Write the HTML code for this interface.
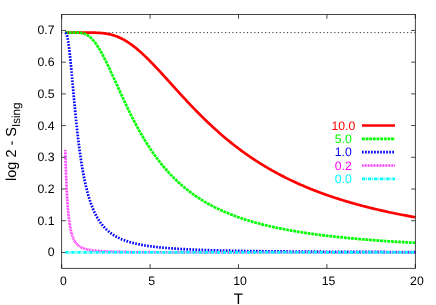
<!DOCTYPE html>
<html><head><meta charset="utf-8"><title>plot</title>
<style>html,body{margin:0;padding:0;background:#fff;}svg{display:block;}svg{will-change:transform;}text{font-family:"Liberation Sans",sans-serif;text-rendering:geometricPrecision;}</style></head><body>
<svg width="436" height="305" viewBox="0 0 436 305">
<rect width="436" height="305" fill="#fff"/>
<g stroke="#000" stroke-width="0.72" fill="none">
<path d="M61.70,252.45 h4.20 M415.30,252.45 h-4.20"/>
<path d="M61.70,220.74 h4.20 M415.30,220.74 h-4.20"/>
<path d="M61.70,189.02 h4.20 M415.30,189.02 h-4.20"/>
<path d="M61.70,157.31 h4.20 M415.30,157.31 h-4.20"/>
<path d="M61.70,125.59 h4.20 M415.30,125.59 h-4.20"/>
<path d="M61.70,93.88 h4.20 M415.30,93.88 h-4.20"/>
<path d="M61.70,62.16 h4.20 M415.30,62.16 h-4.20"/>
<path d="M61.70,30.45 h4.20 M415.30,30.45 h-4.20"/>
<path d="M61.70,268.31 v-4.20 M61.70,14.59 v4.20"/>
<path d="M150.10,268.31 v-4.20 M150.10,14.59 v4.20"/>
<path d="M238.50,268.31 v-4.20 M238.50,14.59 v4.20"/>
<path d="M326.90,268.31 v-4.20 M326.90,14.59 v4.20"/>
<path d="M415.30,268.31 v-4.20 M415.30,14.59 v4.20"/>
</g>
<path d="M61.70,32.62 H415.30" stroke="#000" stroke-width="0.8" stroke-dasharray="1.21 2.43" stroke-dashoffset="0.45" fill="none"/>
<path d="M65.24,32.62 L65.24,32.62 L65.25,32.62 L65.27,32.62 L65.29,32.62 L65.32,32.62 L65.36,32.62 L65.40,32.62 L65.44,32.62 L65.49,32.62 L65.54,32.62 L65.60,32.62 L65.66,32.62 L65.73,32.62 L65.80,32.62 L65.87,32.62 L65.95,32.62 L66.03,32.62 L66.12,32.62 L66.21,32.62 L66.30,32.62 L66.40,32.62 L66.50,32.62 L66.61,32.62 L66.72,32.62 L66.83,32.62 L66.95,32.62 L67.07,32.62 L67.19,32.62 L67.32,32.62 L67.45,32.62 L67.58,32.62 L67.72,32.62 L67.86,32.62 L68.01,32.62 L68.16,32.62 L68.31,32.62 L68.46,32.62 L68.62,32.62 L68.78,32.62 L68.95,32.62 L69.12,32.62 L69.29,32.62 L69.47,32.62 L69.64,32.62 L69.83,32.62 L70.01,32.62 L70.20,32.62 L70.39,32.62 L70.59,32.62 L70.78,32.62 L70.99,32.62 L71.19,32.62 L71.40,32.62 L71.61,32.62 L71.82,32.62 L72.04,32.62 L72.26,32.62 L72.48,32.62 L72.71,32.62 L72.94,32.62 L73.17,32.62 L73.41,32.62 L73.65,32.62 L73.89,32.62 L74.13,32.62 L74.38,32.62 L74.63,32.62 L74.89,32.62 L75.14,32.62 L75.40,32.62 L75.67,32.62 L75.93,32.62 L76.20,32.62 L76.47,32.62 L76.75,32.62 L77.02,32.62 L77.31,32.62 L77.59,32.62 L77.88,32.62 L78.16,32.62 L78.46,32.62 L78.75,32.62 L79.05,32.62 L79.35,32.62 L79.66,32.62 L79.96,32.62 L80.27,32.62 L80.58,32.62 L80.90,32.62 L81.22,32.62 L81.54,32.62 L81.86,32.62 L82.19,32.62 L82.52,32.62 L82.85,32.62 L83.19,32.62 L83.53,32.62 L83.87,32.62 L84.21,32.62 L84.56,32.62 L84.90,32.62 L85.26,32.62 L85.61,32.63 L85.97,32.63 L86.33,32.63 L86.69,32.63 L87.06,32.63 L87.43,32.63 L87.80,32.63 L88.17,32.63 L88.55,32.63 L88.93,32.63 L89.31,32.64 L89.69,32.64 L90.08,32.64 L90.47,32.64 L90.87,32.65 L91.26,32.65 L91.66,32.65 L92.06,32.66 L92.46,32.66 L92.87,32.67 L93.28,32.68 L93.69,32.68 L94.11,32.69 L94.52,32.70 L94.94,32.71 L95.36,32.72 L95.79,32.74 L96.22,32.75 L96.65,32.77 L97.08,32.78 L97.52,32.80 L97.95,32.82 L98.40,32.84 L98.84,32.87 L99.28,32.89 L99.73,32.92 L100.18,32.95 L100.64,32.99 L101.09,33.02 L101.55,33.06 L102.02,33.10 L102.48,33.15 L102.95,33.20 L103.42,33.25 L103.89,33.30 L104.36,33.36 L104.84,33.43 L105.32,33.49 L105.80,33.57 L106.29,33.64 L106.77,33.72 L107.26,33.81 L107.76,33.90 L108.25,33.99 L108.75,34.09 L109.25,34.20 L109.75,34.31 L110.26,34.43 L110.76,34.55 L111.28,34.68 L111.79,34.82 L112.30,34.96 L112.82,35.11 L113.34,35.26 L113.86,35.43 L114.39,35.60 L114.92,35.77 L115.45,35.96 L115.98,36.15 L116.52,36.35 L117.05,36.56 L117.59,36.77 L118.14,37.00 L118.68,37.23 L119.23,37.47 L119.78,37.72 L120.33,37.97 L120.89,38.24 L121.45,38.51 L122.01,38.79 L122.57,39.08 L123.14,39.38 L123.70,39.69 L124.27,40.01 L124.85,40.34 L125.42,40.68 L126.00,41.02 L126.58,41.38 L127.16,41.74 L127.75,42.11 L128.33,42.50 L128.92,42.89 L129.51,43.29 L130.11,43.70 L130.71,44.12 L131.31,44.55 L131.91,44.99 L132.51,45.43 L133.12,45.89 L133.73,46.36 L134.34,46.83 L134.95,47.32 L135.57,47.81 L136.19,48.31 L136.81,48.83 L137.43,49.35 L138.06,49.88 L138.69,50.41 L139.32,50.96 L139.95,51.52 L140.59,52.08 L141.22,52.65 L141.86,53.24 L142.51,53.83 L143.15,54.42 L143.80,55.03 L144.45,55.64 L145.10,56.26 L145.76,56.89 L146.41,57.53 L147.07,58.18 L147.73,58.83 L148.40,59.49 L149.07,60.15 L149.73,60.83 L150.41,61.51 L151.08,62.19 L151.76,62.89 L152.43,63.59 L153.11,64.29 L153.80,65.01 L154.48,65.73 L155.17,66.45 L155.86,67.18 L156.55,67.92 L157.25,68.66 L157.94,69.41 L158.64,70.16 L159.35,70.91 L160.05,71.68 L160.76,72.44 L161.46,73.21 L162.18,73.99 L162.89,74.77 L163.60,75.55 L164.32,76.34 L165.04,77.13 L165.77,77.93 L166.49,78.73 L167.22,79.53 L167.95,80.34 L168.68,81.15 L169.41,81.96 L170.15,82.77 L170.89,83.59 L171.63,84.41 L172.37,85.23 L173.12,86.06 L173.87,86.88 L174.62,87.71 L175.37,88.54 L176.13,89.38 L176.88,90.21 L177.64,91.04 L178.40,91.88 L179.17,92.72 L179.93,93.56 L180.70,94.40 L181.47,95.24 L182.25,96.08 L183.02,96.92 L183.80,97.76 L184.58,98.60 L185.36,99.44 L186.15,100.29 L186.93,101.13 L187.72,101.97 L188.51,102.81 L189.31,103.65 L190.10,104.49 L190.90,105.33 L191.70,106.17 L192.50,107.01 L193.31,107.85 L194.12,108.68 L194.93,109.52 L195.74,110.35 L196.55,111.19 L197.37,112.02 L198.19,112.85 L199.01,113.68 L199.83,114.50 L200.66,115.33 L201.48,116.15 L202.31,116.97 L203.14,117.79 L203.98,118.61 L204.81,119.42 L205.65,120.24 L206.49,121.05 L207.34,121.86 L208.18,122.66 L209.03,123.47 L209.88,124.27 L210.73,125.07 L211.59,125.86 L212.44,126.65 L213.30,127.45 L214.16,128.23 L215.02,129.02 L215.89,129.80 L216.76,130.58 L217.63,131.35 L218.50,132.13 L219.37,132.90 L220.25,133.66 L221.13,134.43 L222.01,135.19 L222.89,135.94 L223.78,136.70 L224.66,137.45 L225.55,138.20 L226.45,138.94 L227.34,139.68 L228.24,140.42 L229.13,141.15 L230.03,141.88 L230.94,142.61 L231.84,143.33 L232.75,144.05 L233.66,144.76 L234.57,145.48 L235.48,146.19 L236.40,146.89 L237.32,147.59 L238.24,148.29 L239.16,148.98 L240.09,149.67 L241.01,150.36 L241.94,151.04 L242.87,151.72 L243.81,152.40 L244.74,153.07 L245.68,153.73 L246.62,154.40 L247.56,155.06 L248.50,155.71 L249.45,156.37 L250.40,157.01 L251.35,157.66 L252.30,158.30 L253.26,158.94 L254.21,159.57 L255.17,160.20 L256.14,160.83 L257.10,161.45 L258.06,162.06 L259.03,162.68 L260.00,163.29 L260.97,163.90 L261.95,164.50 L262.93,165.10 L263.90,165.69 L264.89,166.28 L265.87,166.87 L266.85,167.46 L267.84,168.04 L268.83,168.61 L269.82,169.18 L270.81,169.75 L271.81,170.32 L272.81,170.88 L273.81,171.44 L274.81,171.99 L275.82,172.54 L276.82,173.09 L277.83,173.63 L278.84,174.17 L279.85,174.71 L280.87,175.24 L281.89,175.77 L282.91,176.29 L283.93,176.81 L284.95,177.33 L285.98,177.84 L287.00,178.35 L288.03,178.86 L289.07,179.36 L290.10,179.86 L291.14,180.36 L292.17,180.85 L293.21,181.34 L294.26,181.83 L295.30,182.31 L296.35,182.79 L297.40,183.27 L298.45,183.74 L299.50,184.21 L300.56,184.67 L301.61,185.14 L302.67,185.60 L303.74,186.05 L304.80,186.50 L305.87,186.95 L306.93,187.40 L308.00,187.84 L309.08,188.28 L310.15,188.72 L311.23,189.15 L312.30,189.58 L313.38,190.01 L314.47,190.43 L315.55,190.85 L316.64,191.27 L317.73,191.69 L318.82,192.10 L319.91,192.51 L321.01,192.91 L322.10,193.32 L323.20,193.72 L324.30,194.11 L325.41,194.51 L326.51,194.90 L327.62,195.29 L328.73,195.67 L329.84,196.05 L330.96,196.43 L332.07,196.81 L333.19,197.19 L334.31,197.56 L335.43,197.93 L336.56,198.29 L337.68,198.65 L338.81,199.01 L339.94,199.37 L341.07,199.73 L342.21,200.08 L343.35,200.43 L344.48,200.78 L345.63,201.12 L346.77,201.46 L347.91,201.80 L349.06,202.14 L350.21,202.47 L351.36,202.81 L352.51,203.14 L353.67,203.46 L354.83,203.79 L355.99,204.11 L357.15,204.43 L358.31,204.75 L359.48,205.06 L360.64,205.37 L361.81,205.68 L362.99,205.99 L364.16,206.30 L365.33,206.60 L366.51,206.90 L367.69,207.20 L368.87,207.50 L370.06,207.79 L371.24,208.08 L372.43,208.37 L373.62,208.66 L374.82,208.95 L376.01,209.23 L377.21,209.51 L378.40,209.79 L379.60,210.07 L380.81,210.34 L382.01,210.62 L383.22,210.89 L384.43,211.16 L385.64,211.42 L386.85,211.69 L388.06,211.95 L389.28,212.21 L390.50,212.47 L391.72,212.73 L392.94,212.98 L394.17,213.24 L395.39,213.49 L396.62,213.74 L397.85,213.99 L399.09,214.23 L400.32,214.48 L401.56,214.72 L402.80,214.96 L404.04,215.20 L405.28,215.43 L406.53,215.67 L407.77,215.90 L409.02,216.13 L410.28,216.36 L411.53,216.59 L412.78,216.82 L414.04,217.04 L415.30,217.26" stroke="#ff0000" stroke-width="2.70" fill="none" stroke-linejoin="round"/>
<path d="M65.24,32.62 L65.24,32.62 L65.25,32.62 L65.27,32.62 L65.29,32.62 L65.32,32.62 L65.36,32.62 L65.40,32.62 L65.44,32.62 L65.49,32.62 L65.54,32.62 L65.60,32.62 L65.66,32.62 L65.73,32.62 L65.80,32.62 L65.87,32.62 L65.95,32.62 L66.03,32.62 L66.12,32.62 L66.21,32.62 L66.30,32.62 L66.40,32.62 L66.50,32.62 L66.61,32.62 L66.72,32.62 L66.83,32.62 L66.95,32.62 L67.07,32.62 L67.19,32.62 L67.32,32.62 L67.45,32.62 L67.58,32.62 L67.72,32.62 L67.86,32.62 L68.01,32.62 L68.16,32.62 L68.31,32.62 L68.46,32.62 L68.62,32.62 L68.78,32.62 L68.95,32.62 L69.12,32.62 L69.29,32.62 L69.47,32.62 L69.64,32.62 L69.83,32.62 L70.01,32.62 L70.20,32.62 L70.39,32.62 L70.59,32.62 L70.78,32.62 L70.99,32.62 L71.19,32.62 L71.40,32.62 L71.61,32.62 L71.82,32.62 L72.04,32.62 L72.26,32.62 L72.48,32.62 L72.71,32.62 L72.94,32.62 L73.17,32.62 L73.41,32.62 L73.65,32.63 L73.89,32.63 L74.13,32.63 L74.38,32.63 L74.63,32.63 L74.89,32.63 L75.14,32.63 L75.40,32.63 L75.67,32.64 L75.93,32.64 L76.20,32.64 L76.47,32.65 L76.75,32.66 L77.02,32.66 L77.31,32.67 L77.59,32.68 L77.88,32.69 L78.16,32.70 L78.46,32.72 L78.75,32.74 L79.05,32.76 L79.35,32.78 L79.66,32.81 L79.96,32.83 L80.27,32.87 L80.58,32.91 L80.90,32.95 L81.22,32.99 L81.54,33.05 L81.86,33.11 L82.19,33.17 L82.52,33.24 L82.85,33.32 L83.19,33.40 L83.53,33.50 L83.87,33.60 L84.21,33.71 L84.56,33.83 L84.90,33.96 L85.26,34.11 L85.61,34.26 L85.97,34.42 L86.33,34.60 L86.69,34.79 L87.06,34.99 L87.43,35.21 L87.80,35.44 L88.17,35.68 L88.55,35.94 L88.93,36.21 L89.31,36.50 L89.69,36.81 L90.08,37.13 L90.47,37.47 L90.87,37.83 L91.26,38.20 L91.66,38.60 L92.06,39.01 L92.46,39.43 L92.87,39.88 L93.28,40.35 L93.69,40.83 L94.11,41.33 L94.52,41.86 L94.94,42.40 L95.36,42.96 L95.79,43.54 L96.22,44.14 L96.65,44.76 L97.08,45.40 L97.52,46.05 L97.95,46.73 L98.40,47.43 L98.84,48.14 L99.28,48.88 L99.73,49.63 L100.18,50.40 L100.64,51.19 L101.09,52.00 L101.55,52.82 L102.02,53.66 L102.48,54.52 L102.95,55.40 L103.42,56.29 L103.89,57.20 L104.36,58.13 L104.84,59.07 L105.32,60.03 L105.80,61.00 L106.29,61.98 L106.77,62.98 L107.26,64.00 L107.76,65.02 L108.25,66.06 L108.75,67.12 L109.25,68.18 L109.75,69.25 L110.26,70.34 L110.76,71.44 L111.28,72.55 L111.79,73.66 L112.30,74.79 L112.82,75.93 L113.34,77.07 L113.86,78.22 L114.39,79.38 L114.92,80.55 L115.45,81.72 L115.98,82.90 L116.52,84.08 L117.05,85.27 L117.59,86.47 L118.14,87.67 L118.68,88.87 L119.23,90.08 L119.78,91.29 L120.33,92.50 L120.89,93.71 L121.45,94.93 L122.01,96.15 L122.57,97.37 L123.14,98.59 L123.70,99.81 L124.27,101.03 L124.85,102.25 L125.42,103.48 L126.00,104.70 L126.58,105.91 L127.16,107.13 L127.75,108.35 L128.33,109.56 L128.92,110.77 L129.51,111.98 L130.11,113.18 L130.71,114.38 L131.31,115.58 L131.91,116.78 L132.51,117.97 L133.12,119.15 L133.73,120.33 L134.34,121.51 L134.95,122.68 L135.57,123.85 L136.19,125.01 L136.81,126.17 L137.43,127.32 L138.06,128.47 L138.69,129.60 L139.32,130.74 L139.95,131.86 L140.59,132.98 L141.22,134.10 L141.86,135.21 L142.51,136.31 L143.15,137.40 L143.80,138.49 L144.45,139.56 L145.10,140.64 L145.76,141.70 L146.41,142.76 L147.07,143.81 L147.73,144.85 L148.40,145.89 L149.07,146.91 L149.73,147.93 L150.41,148.95 L151.08,149.95 L151.76,150.95 L152.43,151.93 L153.11,152.91 L153.80,153.89 L154.48,154.85 L155.17,155.81 L155.86,156.76 L156.55,157.70 L157.25,158.63 L157.94,159.55 L158.64,160.47 L159.35,161.38 L160.05,162.28 L160.76,163.17 L161.46,164.05 L162.18,164.93 L162.89,165.80 L163.60,166.66 L164.32,167.51 L165.04,168.35 L165.77,169.19 L166.49,170.02 L167.22,170.84 L167.95,171.65 L168.68,172.46 L169.41,173.25 L170.15,174.04 L170.89,174.82 L171.63,175.60 L172.37,176.36 L173.12,177.12 L173.87,177.87 L174.62,178.62 L175.37,179.35 L176.13,180.08 L176.88,180.80 L177.64,181.51 L178.40,182.22 L179.17,182.92 L179.93,183.61 L180.70,184.30 L181.47,184.98 L182.25,185.65 L183.02,186.31 L183.80,186.97 L184.58,187.62 L185.36,188.26 L186.15,188.90 L186.93,189.53 L187.72,190.15 L188.51,190.77 L189.31,191.38 L190.10,191.98 L190.90,192.58 L191.70,193.17 L192.50,193.76 L193.31,194.33 L194.12,194.91 L194.93,195.47 L195.74,196.03 L196.55,196.59 L197.37,197.13 L198.19,197.68 L199.01,198.21 L199.83,198.74 L200.66,199.27 L201.48,199.79 L202.31,200.30 L203.14,200.81 L203.98,201.31 L204.81,201.81 L205.65,202.30 L206.49,202.79 L207.34,203.27 L208.18,203.74 L209.03,204.21 L209.88,204.68 L210.73,205.14 L211.59,205.59 L212.44,206.04 L213.30,206.49 L214.16,206.93 L215.02,207.37 L215.89,207.80 L216.76,208.22 L217.63,208.65 L218.50,209.06 L219.37,209.47 L220.25,209.88 L221.13,210.29 L222.01,210.69 L222.89,211.08 L223.78,211.47 L224.66,211.86 L225.55,212.24 L226.45,212.62 L227.34,212.99 L228.24,213.36 L229.13,213.73 L230.03,214.09 L230.94,214.45 L231.84,214.80 L232.75,215.15 L233.66,215.50 L234.57,215.84 L235.48,216.18 L236.40,216.51 L237.32,216.84 L238.24,217.17 L239.16,217.50 L240.09,217.82 L241.01,218.14 L241.94,218.45 L242.87,218.76 L243.81,219.07 L244.74,219.37 L245.68,219.67 L246.62,219.97 L247.56,220.26 L248.50,220.55 L249.45,220.84 L250.40,221.13 L251.35,221.41 L252.30,221.69 L253.26,221.96 L254.21,222.24 L255.17,222.51 L256.14,222.77 L257.10,223.04 L258.06,223.30 L259.03,223.56 L260.00,223.81 L260.97,224.07 L261.95,224.32 L262.93,224.57 L263.90,224.81 L264.89,225.05 L265.87,225.29 L266.85,225.53 L267.84,225.77 L268.83,226.00 L269.82,226.23 L270.81,226.46 L271.81,226.68 L272.81,226.91 L273.81,227.13 L274.81,227.35 L275.82,227.56 L276.82,227.78 L277.83,227.99 L278.84,228.20 L279.85,228.40 L280.87,228.61 L281.89,228.81 L282.91,229.01 L283.93,229.21 L284.95,229.41 L285.98,229.60 L287.00,229.80 L288.03,229.99 L289.07,230.18 L290.10,230.36 L291.14,230.55 L292.17,230.73 L293.21,230.91 L294.26,231.09 L295.30,231.27 L296.35,231.45 L297.40,231.62 L298.45,231.79 L299.50,231.96 L300.56,232.13 L301.61,232.30 L302.67,232.46 L303.74,232.63 L304.80,232.79 L305.87,232.95 L306.93,233.11 L308.00,233.27 L309.08,233.42 L310.15,233.58 L311.23,233.73 L312.30,233.88 L313.38,234.03 L314.47,234.18 L315.55,234.33 L316.64,234.47 L317.73,234.62 L318.82,234.76 L319.91,234.90 L321.01,235.04 L322.10,235.18 L323.20,235.31 L324.30,235.45 L325.41,235.58 L326.51,235.72 L327.62,235.85 L328.73,235.98 L329.84,236.11 L330.96,236.24 L332.07,236.36 L333.19,236.49 L334.31,236.61 L335.43,236.74 L336.56,236.86 L337.68,236.98 L338.81,237.10 L339.94,237.22 L341.07,237.33 L342.21,237.45 L343.35,237.57 L344.48,237.68 L345.63,237.79 L346.77,237.90 L347.91,238.02 L349.06,238.12 L350.21,238.23 L351.36,238.34 L352.51,238.45 L353.67,238.55 L354.83,238.66 L355.99,238.76 L357.15,238.86 L358.31,238.97 L359.48,239.07 L360.64,239.17 L361.81,239.27 L362.99,239.36 L364.16,239.46 L365.33,239.56 L366.51,239.65 L367.69,239.75 L368.87,239.84 L370.06,239.93 L371.24,240.03 L372.43,240.12 L373.62,240.21 L374.82,240.30 L376.01,240.39 L377.21,240.47 L378.40,240.56 L379.60,240.65 L380.81,240.73 L382.01,240.82 L383.22,240.90 L384.43,240.98 L385.64,241.07 L386.85,241.15 L388.06,241.23 L389.28,241.31 L390.50,241.39 L391.72,241.47 L392.94,241.55 L394.17,241.62 L395.39,241.70 L396.62,241.78 L397.85,241.85 L399.09,241.93 L400.32,242.00 L401.56,242.07 L402.80,242.15 L404.04,242.22 L405.28,242.29 L406.53,242.36 L407.77,242.43 L409.02,242.50 L410.28,242.57 L411.53,242.64 L412.78,242.71 L414.04,242.77 L415.30,242.84" stroke="#00ff00" stroke-width="2.70" fill="none" stroke-linejoin="round" stroke-dasharray="2.824 0.812"/>
<path d="M65.24,32.78 L65.24,32.78 L65.25,32.79 L65.27,32.80 L65.29,32.81 L65.32,32.82 L65.36,32.84 L65.40,32.86 L65.44,32.88 L65.49,32.91 L65.54,32.95 L65.60,32.99 L65.66,33.04 L65.73,33.10 L65.80,33.17 L65.87,33.25 L65.95,33.34 L66.03,33.45 L66.12,33.58 L66.21,33.72 L66.30,33.89 L66.40,34.08 L66.50,34.30 L66.61,34.55 L66.72,34.84 L66.83,35.16 L66.95,35.52 L67.07,35.93 L67.19,36.38 L67.32,36.89 L67.45,37.45 L67.58,38.06 L67.72,38.74 L67.86,39.49 L68.01,40.30 L68.16,41.18 L68.31,42.13 L68.46,43.16 L68.62,44.27 L68.78,45.45 L68.95,46.72 L69.12,48.06 L69.29,49.48 L69.47,50.99 L69.64,52.58 L69.83,54.24 L70.01,55.98 L70.20,57.80 L70.39,59.70 L70.59,61.66 L70.78,63.70 L70.99,65.80 L71.19,67.97 L71.40,70.19 L71.61,72.48 L71.82,74.81 L72.04,77.19 L72.26,79.62 L72.48,82.09 L72.71,84.60 L72.94,87.13 L73.17,89.70 L73.41,92.29 L73.65,94.90 L73.89,97.52 L74.13,100.16 L74.38,102.81 L74.63,105.45 L74.89,108.10 L75.14,110.75 L75.40,113.39 L75.67,116.02 L75.93,118.64 L76.20,121.25 L76.47,123.84 L76.75,126.40 L77.02,128.95 L77.31,131.47 L77.59,133.96 L77.88,136.43 L78.16,138.86 L78.46,141.26 L78.75,143.63 L79.05,145.97 L79.35,148.27 L79.66,150.54 L79.96,152.77 L80.27,154.96 L80.58,157.11 L80.90,159.23 L81.22,161.31 L81.54,163.35 L81.86,165.35 L82.19,167.31 L82.52,169.23 L82.85,171.11 L83.19,172.95 L83.53,174.76 L83.87,176.52 L84.21,178.25 L84.56,179.94 L84.90,181.59 L85.26,183.21 L85.61,184.79 L85.97,186.33 L86.33,187.84 L86.69,189.31 L87.06,190.75 L87.43,192.15 L87.80,193.53 L88.17,194.86 L88.55,196.17 L88.93,197.45 L89.31,198.69 L89.69,199.90 L90.08,201.09 L90.47,202.25 L90.87,203.37 L91.26,204.47 L91.66,205.55 L92.06,206.59 L92.46,207.61 L92.87,208.61 L93.28,209.58 L93.69,210.53 L94.11,211.45 L94.52,212.35 L94.94,213.23 L95.36,214.08 L95.79,214.92 L96.22,215.73 L96.65,216.53 L97.08,217.30 L97.52,218.06 L97.95,218.79 L98.40,219.51 L98.84,220.21 L99.28,220.89 L99.73,221.56 L100.18,222.21 L100.64,222.84 L101.09,223.46 L101.55,224.07 L102.02,224.65 L102.48,225.23 L102.95,225.79 L103.42,226.34 L103.89,226.87 L104.36,227.39 L104.84,227.90 L105.32,228.39 L105.80,228.88 L106.29,229.35 L106.77,229.81 L107.26,230.26 L107.76,230.70 L108.25,231.13 L108.75,231.55 L109.25,231.95 L109.75,232.35 L110.26,232.74 L110.76,233.12 L111.28,233.50 L111.79,233.86 L112.30,234.21 L112.82,234.56 L113.34,234.90 L113.86,235.23 L114.39,235.55 L114.92,235.87 L115.45,236.18 L115.98,236.48 L116.52,236.77 L117.05,237.06 L117.59,237.34 L118.14,237.62 L118.68,237.89 L119.23,238.15 L119.78,238.41 L120.33,238.66 L120.89,238.91 L121.45,239.15 L122.01,239.39 L122.57,239.62 L123.14,239.84 L123.70,240.06 L124.27,240.28 L124.85,240.49 L125.42,240.70 L126.00,240.90 L126.58,241.10 L127.16,241.29 L127.75,241.48 L128.33,241.67 L128.92,241.85 L129.51,242.03 L130.11,242.20 L130.71,242.37 L131.31,242.54 L131.91,242.70 L132.51,242.86 L133.12,243.02 L133.73,243.18 L134.34,243.33 L134.95,243.47 L135.57,243.62 L136.19,243.76 L136.81,243.90 L137.43,244.04 L138.06,244.17 L138.69,244.30 L139.32,244.43 L139.95,244.56 L140.59,244.68 L141.22,244.80 L141.86,244.92 L142.51,245.04 L143.15,245.15 L143.80,245.26 L144.45,245.37 L145.10,245.48 L145.76,245.59 L146.41,245.69 L147.07,245.79 L147.73,245.89 L148.40,245.99 L149.07,246.09 L149.73,246.18 L150.41,246.27 L151.08,246.36 L151.76,246.45 L152.43,246.54 L153.11,246.63 L153.80,246.71 L154.48,246.80 L155.17,246.88 L155.86,246.96 L156.55,247.03 L157.25,247.11 L157.94,247.19 L158.64,247.26 L159.35,247.34 L160.05,247.41 L160.76,247.48 L161.46,247.55 L162.18,247.62 L162.89,247.68 L163.60,247.75 L164.32,247.81 L165.04,247.88 L165.77,247.94 L166.49,248.00 L167.22,248.06 L167.95,248.12 L168.68,248.18 L169.41,248.23 L170.15,248.29 L170.89,248.35 L171.63,248.40 L172.37,248.45 L173.12,248.51 L173.87,248.56 L174.62,248.61 L175.37,248.66 L176.13,248.71 L176.88,248.76 L177.64,248.81 L178.40,248.85 L179.17,248.90 L179.93,248.94 L180.70,248.99 L181.47,249.03 L182.25,249.08 L183.02,249.12 L183.80,249.16 L184.58,249.20 L185.36,249.24 L186.15,249.28 L186.93,249.32 L187.72,249.36 L188.51,249.40 L189.31,249.44 L190.10,249.47 L190.90,249.51 L191.70,249.54 L192.50,249.58 L193.31,249.61 L194.12,249.65 L194.93,249.68 L195.74,249.71 L196.55,249.75 L197.37,249.78 L198.19,249.81 L199.01,249.84 L199.83,249.87 L200.66,249.90 L201.48,249.93 L202.31,249.96 L203.14,249.99 L203.98,250.02 L204.81,250.05 L205.65,250.08 L206.49,250.10 L207.34,250.13 L208.18,250.16 L209.03,250.18 L209.88,250.21 L210.73,250.23 L211.59,250.26 L212.44,250.28 L213.30,250.31 L214.16,250.33 L215.02,250.36 L215.89,250.38 L216.76,250.40 L217.63,250.42 L218.50,250.45 L219.37,250.47 L220.25,250.49 L221.13,250.51 L222.01,250.53 L222.89,250.55 L223.78,250.57 L224.66,250.59 L225.55,250.61 L226.45,250.63 L227.34,250.65 L228.24,250.67 L229.13,250.69 L230.03,250.71 L230.94,250.73 L231.84,250.75 L232.75,250.76 L233.66,250.78 L234.57,250.80 L235.48,250.82 L236.40,250.83 L237.32,250.85 L238.24,250.87 L239.16,250.88 L240.09,250.90 L241.01,250.92 L241.94,250.93 L242.87,250.95 L243.81,250.96 L244.74,250.98 L245.68,250.99 L246.62,251.01 L247.56,251.02 L248.50,251.04 L249.45,251.05 L250.40,251.06 L251.35,251.08 L252.30,251.09 L253.26,251.10 L254.21,251.12 L255.17,251.13 L256.14,251.14 L257.10,251.16 L258.06,251.17 L259.03,251.18 L260.00,251.19 L260.97,251.21 L261.95,251.22 L262.93,251.23 L263.90,251.24 L264.89,251.25 L265.87,251.27 L266.85,251.28 L267.84,251.29 L268.83,251.30 L269.82,251.31 L270.81,251.32 L271.81,251.33 L272.81,251.34 L273.81,251.35 L274.81,251.36 L275.82,251.37 L276.82,251.38 L277.83,251.39 L278.84,251.40 L279.85,251.41 L280.87,251.42 L281.89,251.43 L282.91,251.44 L283.93,251.45 L284.95,251.46 L285.98,251.47 L287.00,251.48 L288.03,251.49 L289.07,251.49 L290.10,251.50 L291.14,251.51 L292.17,251.52 L293.21,251.53 L294.26,251.54 L295.30,251.54 L296.35,251.55 L297.40,251.56 L298.45,251.57 L299.50,251.58 L300.56,251.58 L301.61,251.59 L302.67,251.60 L303.74,251.61 L304.80,251.61 L305.87,251.62 L306.93,251.63 L308.00,251.64 L309.08,251.64 L310.15,251.65 L311.23,251.66 L312.30,251.66 L313.38,251.67 L314.47,251.68 L315.55,251.68 L316.64,251.69 L317.73,251.70 L318.82,251.70 L319.91,251.71 L321.01,251.71 L322.10,251.72 L323.20,251.73 L324.30,251.73 L325.41,251.74 L326.51,251.74 L327.62,251.75 L328.73,251.76 L329.84,251.76 L330.96,251.77 L332.07,251.77 L333.19,251.78 L334.31,251.78 L335.43,251.79 L336.56,251.80 L337.68,251.80 L338.81,251.81 L339.94,251.81 L341.07,251.82 L342.21,251.82 L343.35,251.83 L344.48,251.83 L345.63,251.84 L346.77,251.84 L347.91,251.85 L349.06,251.85 L350.21,251.86 L351.36,251.86 L352.51,251.86 L353.67,251.87 L354.83,251.87 L355.99,251.88 L357.15,251.88 L358.31,251.89 L359.48,251.89 L360.64,251.90 L361.81,251.90 L362.99,251.90 L364.16,251.91 L365.33,251.91 L366.51,251.92 L367.69,251.92 L368.87,251.93 L370.06,251.93 L371.24,251.93 L372.43,251.94 L373.62,251.94 L374.82,251.95 L376.01,251.95 L377.21,251.95 L378.40,251.96 L379.60,251.96 L380.81,251.96 L382.01,251.97 L383.22,251.97 L384.43,251.97 L385.64,251.98 L386.85,251.98 L388.06,251.99 L389.28,251.99 L390.50,251.99 L391.72,252.00 L392.94,252.00 L394.17,252.00 L395.39,252.01 L396.62,252.01 L397.85,252.01 L399.09,252.02 L400.32,252.02 L401.56,252.02 L402.80,252.02 L404.04,252.03 L405.28,252.03 L406.53,252.03 L407.77,252.04 L409.02,252.04 L410.28,252.04 L411.53,252.05 L412.78,252.05 L414.04,252.05 L415.30,252.05" stroke="#0000ff" stroke-width="2.70" fill="none" stroke-linejoin="round" stroke-dasharray="1.662 1.368"/>
<path d="M65.28,150.27 L65.29,150.45 L65.30,150.89 L65.32,151.55 L65.34,152.41 L65.37,153.45 L65.41,154.66 L65.44,156.02 L65.49,157.51 L65.54,159.13 L65.59,160.86 L65.65,162.70 L65.71,164.62 L65.77,166.61 L65.84,168.67 L65.92,170.79 L66.00,172.95 L66.08,175.13 L66.17,177.35 L66.26,179.57 L66.35,181.80 L66.45,184.02 L66.55,186.24 L66.65,188.43 L66.76,190.60 L66.88,192.74 L66.99,194.85 L67.11,196.91 L67.24,198.94 L67.36,200.91 L67.50,202.84 L67.63,204.72 L67.77,206.54 L67.91,208.31 L68.05,210.03 L68.20,211.69 L68.35,213.29 L68.51,214.84 L68.67,216.34 L68.83,217.78 L69.00,219.16 L69.16,220.50 L69.34,221.78 L69.51,223.01 L69.69,224.20 L69.87,225.33 L70.06,226.42 L70.25,227.46 L70.44,228.46 L70.63,229.42 L70.83,230.34 L71.03,231.22 L71.24,232.06 L71.44,232.87 L71.66,233.64 L71.87,234.38 L72.09,235.08 L72.31,235.76 L72.53,236.41 L72.76,237.02 L72.99,237.62 L73.22,238.18 L73.45,238.72 L73.69,239.24 L73.93,239.74 L74.18,240.21 L74.43,240.67 L74.68,241.10 L74.93,241.52 L75.19,241.92 L75.45,242.30 L75.71,242.66 L75.98,243.01 L76.25,243.35 L76.52,243.67 L76.79,243.98 L77.07,244.28 L77.35,244.56 L77.64,244.83 L77.92,245.09 L78.21,245.34 L78.50,245.58 L78.80,245.81 L79.10,246.03 L79.40,246.24 L79.70,246.45 L80.01,246.64 L80.32,246.83 L80.63,247.01 L80.95,247.19 L81.26,247.35 L81.58,247.51 L81.91,247.67 L82.24,247.82 L82.56,247.96 L82.90,248.10 L83.23,248.23 L83.57,248.36 L83.91,248.48 L84.25,248.60 L84.60,248.71 L84.95,248.82 L85.30,248.93 L85.66,249.03 L86.01,249.13 L86.37,249.23 L86.74,249.32 L87.10,249.41 L87.47,249.49 L87.84,249.58 L88.22,249.66 L88.59,249.73 L88.97,249.81 L89.35,249.88 L89.74,249.95 L90.13,250.02 L90.52,250.08 L90.91,250.14 L91.31,250.20 L91.70,250.26 L92.10,250.32 L92.51,250.37 L92.91,250.43 L93.32,250.48 L93.73,250.53 L94.15,250.58 L94.57,250.63 L94.99,250.67 L95.41,250.71 L95.83,250.76 L96.26,250.80 L96.69,250.84 L97.12,250.88 L97.56,250.92 L98.00,250.95 L98.44,250.99 L98.88,251.02 L99.33,251.06 L99.78,251.09 L100.23,251.12 L100.68,251.15 L101.14,251.18 L101.60,251.21 L102.06,251.24 L102.52,251.26 L102.99,251.29 L103.46,251.32 L103.93,251.34 L104.41,251.37 L104.88,251.39 L105.36,251.41 L105.84,251.44 L106.33,251.46 L106.82,251.48 L107.31,251.50 L107.80,251.52 L108.29,251.54 L108.79,251.56 L109.29,251.58 L109.79,251.60 L110.30,251.61 L110.81,251.63 L111.32,251.65 L111.83,251.66 L112.34,251.68 L112.86,251.69 L113.38,251.71 L113.91,251.72 L114.43,251.74 L114.96,251.75 L115.49,251.77 L116.02,251.78 L116.56,251.79 L117.10,251.81 L117.64,251.82 L118.18,251.83 L118.72,251.84 L119.27,251.85 L119.82,251.86 L120.37,251.88 L120.93,251.89 L121.49,251.90 L122.05,251.91 L122.61,251.92 L123.18,251.93 L123.74,251.94 L124.31,251.95 L124.89,251.95 L125.46,251.96 L126.04,251.97 L126.62,251.98 L127.20,251.99 L127.78,252.00 L128.37,252.00 L128.96,252.01 L129.55,252.02 L130.15,252.03 L130.74,252.03 L131.34,252.04 L131.95,252.05 L132.55,252.06 L133.16,252.06 L133.77,252.07 L134.38,252.08 L134.99,252.08 L135.61,252.09 L136.23,252.09 L136.85,252.10 L137.47,252.11 L138.10,252.11 L138.72,252.12 L139.36,252.12 L139.99,252.13 L140.62,252.13 L141.26,252.14 L141.90,252.14 L142.54,252.15 L143.19,252.15 L143.84,252.16 L144.49,252.16 L145.14,252.17 L145.79,252.17 L146.45,252.17 L147.11,252.18 L147.77,252.18 L148.44,252.19 L149.10,252.19 L149.77,252.19 L150.44,252.20 L151.12,252.20 L151.79,252.21 L152.47,252.21 L153.15,252.21 L153.83,252.22 L154.52,252.22 L155.21,252.22 L155.90,252.23 L156.59,252.23 L157.28,252.23 L157.98,252.24 L158.68,252.24 L159.38,252.24 L160.08,252.25 L160.79,252.25 L161.50,252.25 L162.21,252.25 L162.92,252.26 L163.64,252.26 L164.36,252.26 L165.08,252.26 L165.80,252.27 L166.52,252.27 L167.25,252.27 L167.98,252.27 L168.71,252.28 L169.45,252.28 L170.18,252.28 L170.92,252.28 L171.66,252.29 L172.41,252.29 L173.15,252.29 L173.90,252.29 L174.65,252.29 L175.40,252.30 L176.16,252.30 L176.91,252.30 L177.67,252.30 L178.44,252.30 L179.20,252.31 L179.97,252.31 L180.73,252.31 L181.51,252.31 L182.28,252.31 L183.05,252.32 L183.83,252.32 L184.61,252.32 L185.39,252.32 L186.18,252.32 L186.96,252.32 L187.75,252.33 L188.55,252.33 L189.34,252.33 L190.13,252.33 L190.93,252.33 L191.73,252.33 L192.54,252.33 L193.34,252.34 L194.15,252.34 L194.96,252.34 L195.77,252.34 L196.58,252.34 L197.40,252.34 L198.22,252.34 L199.04,252.34 L199.86,252.35 L200.68,252.35 L201.51,252.35 L202.34,252.35 L203.17,252.35 L204.01,252.35 L204.84,252.35 L205.68,252.35 L206.52,252.36 L207.37,252.36 L208.21,252.36 L209.06,252.36 L209.91,252.36 L210.76,252.36 L211.61,252.36 L212.47,252.36 L213.33,252.36 L214.19,252.36 L215.05,252.37 L215.92,252.37 L216.78,252.37 L217.65,252.37 L218.53,252.37 L219.40,252.37 L220.28,252.37 L221.15,252.37 L222.04,252.37 L222.92,252.37 L223.80,252.37 L224.69,252.38 L225.58,252.38 L226.47,252.38 L227.37,252.38 L228.26,252.38 L229.16,252.38 L230.06,252.38 L230.96,252.38 L231.87,252.38 L232.77,252.38 L233.68,252.38 L234.60,252.38 L235.51,252.38 L236.42,252.39 L237.34,252.39 L238.26,252.39 L239.18,252.39 L240.11,252.39 L241.04,252.39 L241.96,252.39 L242.90,252.39 L243.83,252.39 L244.76,252.39 L245.70,252.39 L246.64,252.39 L247.58,252.39 L248.53,252.39 L249.47,252.39 L250.42,252.39 L251.37,252.39 L252.32,252.40 L253.28,252.40 L254.24,252.40 L255.20,252.40 L256.16,252.40 L257.12,252.40 L258.09,252.40 L259.05,252.40 L260.02,252.40 L261.00,252.40 L261.97,252.40 L262.95,252.40 L263.92,252.40 L264.91,252.40 L265.89,252.40 L266.87,252.40 L267.86,252.40 L268.85,252.40 L269.84,252.40 L270.83,252.40 L271.83,252.41 L272.83,252.41 L273.83,252.41 L274.83,252.41 L275.83,252.41 L276.84,252.41 L277.85,252.41 L278.86,252.41 L279.87,252.41 L280.89,252.41 L281.90,252.41 L282.92,252.41 L283.94,252.41 L284.97,252.41 L285.99,252.41 L287.02,252.41 L288.05,252.41 L289.08,252.41 L290.12,252.41 L291.15,252.41 L292.19,252.41 L293.23,252.41 L294.27,252.41 L295.32,252.41 L296.37,252.41 L297.41,252.41 L298.46,252.41 L299.52,252.41 L300.57,252.42 L301.63,252.42 L302.69,252.42 L303.75,252.42 L304.81,252.42 L305.88,252.42 L306.95,252.42 L308.02,252.42 L309.09,252.42 L310.16,252.42 L311.24,252.42 L312.32,252.42 L313.40,252.42 L314.48,252.42 L315.57,252.42 L316.65,252.42 L317.74,252.42 L318.83,252.42 L319.92,252.42 L321.02,252.42 L322.12,252.42 L323.22,252.42 L324.32,252.42 L325.42,252.42 L326.53,252.42 L327.63,252.42 L328.74,252.42 L329.85,252.42 L330.97,252.42 L332.08,252.42 L333.20,252.42 L334.32,252.42 L335.44,252.42 L336.57,252.42 L337.69,252.42 L338.82,252.42 L339.95,252.42 L341.08,252.42 L342.22,252.42 L343.36,252.43 L344.49,252.43 L345.63,252.43 L346.78,252.43 L347.92,252.43 L349.07,252.43 L350.22,252.43 L351.37,252.43 L352.52,252.43 L353.68,252.43 L354.83,252.43 L355.99,252.43 L357.16,252.43 L358.32,252.43 L359.48,252.43 L360.65,252.43 L361.82,252.43 L362.99,252.43 L364.17,252.43 L365.34,252.43 L366.52,252.43 L367.70,252.43 L368.88,252.43 L370.06,252.43 L371.25,252.43 L372.44,252.43 L373.63,252.43 L374.82,252.43 L376.01,252.43 L377.21,252.43 L378.41,252.43 L379.61,252.43 L380.81,252.43 L382.02,252.43 L383.22,252.43 L384.43,252.43 L385.64,252.43 L386.85,252.43 L388.07,252.43 L389.28,252.43 L390.50,252.43 L391.72,252.43 L392.95,252.43 L394.17,252.43 L395.40,252.43 L396.63,252.43 L397.86,252.43 L399.09,252.43 L400.32,252.43 L401.56,252.43 L402.80,252.43 L404.04,252.43 L405.28,252.43 L406.53,252.43 L407.78,252.43 L409.02,252.43 L410.28,252.43 L411.53,252.43 L412.78,252.43 L414.04,252.43 L415.30,252.43" stroke="#ff00ff" stroke-width="2.70" fill="none" stroke-linejoin="round" stroke-dasharray="0.756 0.759"/>
<path d="M65.24,252.45 L415.30,252.45" stroke="#00ffff" stroke-width="2.70" fill="none" stroke-linejoin="round" stroke-dasharray="3.230 1.012 0.806 1.012"/>
<rect x="61.70" y="14.59" width="353.60" height="253.71" stroke="#000" stroke-width="0.72" fill="none"/>
<g font-size="12.25" fill="#000">
<text x="54.5" y="256.40" text-anchor="end">0</text>
<text x="54.5" y="224.69" text-anchor="end">0.1</text>
<text x="54.5" y="192.97" text-anchor="end">0.2</text>
<text x="54.5" y="161.26" text-anchor="end">0.3</text>
<text x="54.5" y="129.54" text-anchor="end">0.4</text>
<text x="54.5" y="97.83" text-anchor="end">0.5</text>
<text x="54.5" y="66.11" text-anchor="end">0.6</text>
<text x="54.5" y="34.40" text-anchor="end">0.7</text>
<text x="63.30" y="285.4" text-anchor="middle">0</text>
<text x="151.70" y="285.4" text-anchor="middle">5</text>
<text x="240.10" y="285.4" text-anchor="middle">10</text>
<text x="328.50" y="285.4" text-anchor="middle">15</text>
<text x="416.90" y="285.4" text-anchor="middle">20</text>
</g>
<text x="238.45" y="303.6" font-size="15.2" text-anchor="middle" fill="#000">T</text>
<text transform="translate(15.5,181.0) rotate(-90)" font-size="14.50" fill="#000">log 2 - S<tspan font-size="11.6" dy="4.4">Ising</tspan></text>
<text x="343.3" y="129.80" font-size="12.25" text-anchor="middle" fill="#ff0000">10.0</text>
<path d="M362.0,125.50 H395.0" stroke="#ff0000" stroke-width="2.70" fill="none"/>
<text x="343.3" y="143.13" font-size="12.25" text-anchor="middle" fill="#00ff00">5.0</text>
<path d="M362.0,138.83 H395.0" stroke="#00ff00" stroke-width="2.70" fill="none" stroke-dasharray="2.824 0.812"/>
<text x="343.3" y="156.46" font-size="12.25" text-anchor="middle" fill="#0000ff">1.0</text>
<path d="M362.0,152.16 H395.0" stroke="#0000ff" stroke-width="2.70" fill="none" stroke-dasharray="1.662 1.368"/>
<text x="343.3" y="169.79" font-size="12.25" text-anchor="middle" fill="#ff00ff">0.2</text>
<path d="M362.0,165.49 H395.0" stroke="#ff00ff" stroke-width="2.70" fill="none" stroke-dasharray="0.756 0.759"/>
<text x="343.3" y="183.12" font-size="12.25" text-anchor="middle" fill="#00ffff">0.0</text>
<path d="M362.0,178.82 H395.0" stroke="#00ffff" stroke-width="2.70" fill="none" stroke-dasharray="3.230 1.012 0.806 1.012"/>
</svg></body></html>
